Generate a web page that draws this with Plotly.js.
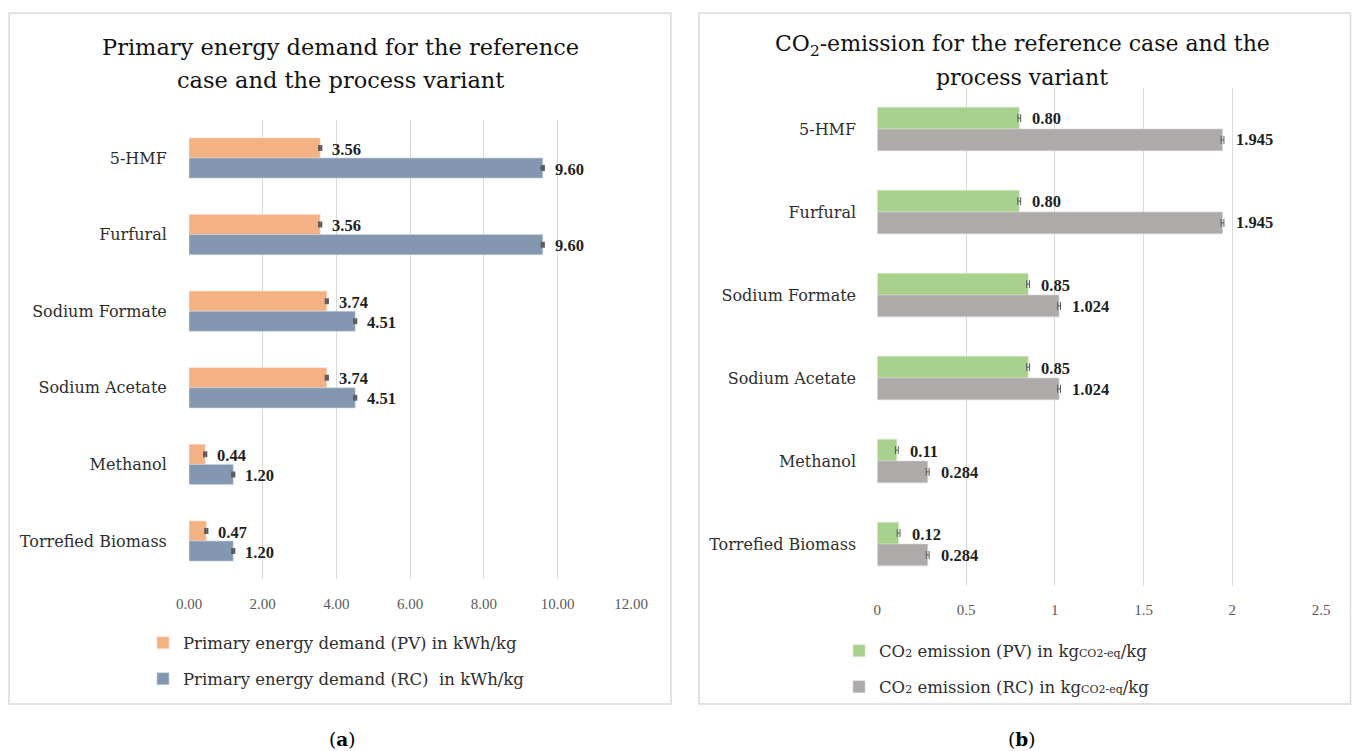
<!DOCTYPE html>
<html>
<head>
<meta charset="utf-8">
<script src="https://cdn.plot.ly/plotly-3.0.1.min.js"></script>
<style>
  html, body { margin: 0; padding: 0; background: #ffffff; }
  #chart { width: 1352px; height: 751px; }
</style>
</head>
<body>
<div id="chart"></div>
<script>
// Products compared in both panels (top to bottom)
const categories = ['5-HMF', 'Furfural', 'Sodium Formate', 'Sodium Acetate', 'Methanol', 'Torrefied Biomass'];

// Panel (a): primary energy demand, kWh/kg
const energyPV = [3.56, 3.56, 3.74, 3.74, 0.44, 0.47];
const energyRC = [9.60, 9.60, 4.51, 4.51, 1.20, 1.20];
const energyErrPV = [0.03, 0.03, 0.03, 0.03, 0.03, 0.03];
const energyErrRC = [0.03, 0.03, 0.03, 0.03, 0.03, 0.03];

// Panel (b): CO2 emission, kg CO2-eq/kg
const co2PV = [0.80, 0.80, 0.85, 0.85, 0.11, 0.12];
const co2RC = [1.945, 1.945, 1.024, 1.024, 0.284, 0.284];
const co2ErrPV = [0.008, 0.008, 0.008, 0.008, 0.008, 0.008];
const co2ErrRC = [0.008, 0.008, 0.008, 0.008, 0.008, 0.008];

// Axis ticks
const energyTicks = [0, 2, 4, 6, 8, 10, 12];
const co2Ticks = [0, 0.5, 1, 1.5, 2, 2.5];

// Legend labels
const legendEnergyPV = 'Primary energy demand (PV) in kWh/kg';
const legendEnergyRC = 'Primary energy demand (RC)\u00a0 in kWh/kg';
const legendCo2PV = 'CO<span style="font-size:11px">2</span> emission (PV) in kg<span style="font-size:11px">CO2-eq</span>/kg';
const legendCo2RC = 'CO<span style="font-size:11px">2</span> emission (RC) in kg<span style="font-size:11px">CO2-eq</span>/kg';

// ---- helpers: pixel -> paper fraction ----
const W = 1352, H = 751;
const px = v => v / W;
const py = v => 1 - v / H;

const SERIF = 'DejaVu Serif, serif';
const NUM = 'Liberation Serif, serif';
const errStyle = (arr, th, w) => ({ type: 'data', array: arr, color: '#595959', thickness: th, width: w });

const traces = [
  { type: 'bar', orientation: 'h', y: categories, x: energyPV, name: legendEnergyPV,
    marker: { color: '#F4B183', line: { color: '#fbe3d2', width: 0.6 } },
    error_x: errStyle(energyErrPV, 2, 3), xaxis: 'x', yaxis: 'y', legend: 'legend', hoverinfo: 'skip' },
  { type: 'bar', orientation: 'h', y: categories, x: energyRC, name: legendEnergyRC,
    marker: { color: '#8497B0', line: { color: '#c9d2de', width: 0.6 } },
    error_x: errStyle(energyErrRC, 2, 3), xaxis: 'x', yaxis: 'y', legend: 'legend2', hoverinfo: 'skip' },
  { type: 'bar', orientation: 'h', y: categories, x: co2PV, name: legendCo2PV,
    marker: { color: '#A9D18E', line: { color: '#d8ebcb', width: 0.6 } },
    error_x: errStyle(co2ErrPV, 1, 4), xaxis: 'x2', yaxis: 'y2', legend: 'legend3', hoverinfo: 'skip' },
  { type: 'bar', orientation: 'h', y: categories, x: co2RC, name: legendCo2RC,
    marker: { color: '#AEAAAA', line: { color: '#d6d4d4', width: 0.6 } },
    error_x: errStyle(co2ErrRC, 1, 4), xaxis: 'x2', yaxis: 'y2', legend: 'legend4', hoverinfo: 'skip' }
];

// value labels beside each bar
const annotations = [];
const labelFont = { family: NUM, size: 16.5, color: '#1f1f1f', weight: 'bold' };
categories.forEach((c, i) => {
  annotations.push({ xref: 'x', yref: 'y', x: energyPV[i], y: c, text: energyPV[i].toFixed(2),
    showarrow: false, xanchor: 'left', xshift: 10, yshift: 9, font: labelFont });
  annotations.push({ xref: 'x', yref: 'y', x: energyRC[i], y: c, text: energyRC[i].toFixed(2),
    showarrow: false, xanchor: 'left', xshift: 10, yshift: -11, font: labelFont });
  annotations.push({ xref: 'x2', yref: 'y2', x: co2PV[i], y: c, text: co2PV[i].toFixed(2),
    showarrow: false, xanchor: 'left', xshift: 11, yshift: 10, font: labelFont });
  annotations.push({ xref: 'x2', yref: 'y2', x: co2RC[i], y: c, text: co2RC[i].toFixed(3),
    showarrow: false, xanchor: 'left', xshift: 11, yshift: -11, font: labelFont });
});

// panel titles and captions
const titleFontA = { family: SERIF, size: 22.5, color: '#111111' };
const titleFontB = { family: SERIF, size: 22, color: '#111111' };
const titleLines = [
  ['Primary energy demand for the reference', 340, 47, titleFontA],
  ['case and the process variant', 340, 80, titleFontA],
  ['CO<sub>2</sub>-emission for the reference case and the', 1022, 45, titleFontB],
  ['process variant', 1022, 77, titleFontB]
];
titleLines.forEach(([t, x, y, f]) => annotations.push({
  xref: 'paper', yref: 'paper', x: px(x), y: py(y), text: t, showarrow: false,
  xanchor: 'center', yanchor: 'middle', font: f }));
[['(<b>a</b>)', 342], ['(<b>b</b>)', 1021]].forEach(([t, x]) => annotations.push({
  xref: 'paper', yref: 'paper', x: px(x), y: py(739), text: t, showarrow: false,
  xanchor: 'center', yanchor: 'middle', font: { family: SERIF, size: 18.5, color: '#000000' } }));

const xCommon = {
  showgrid: true, gridcolor: '#d9d9d9', gridwidth: 1, zeroline: false, showline: false,
  ticks: 'outside', tickcolor: 'rgba(0,0,0,0)', fixedrange: true,
  tickfont: { family: NUM, size: 15, color: '#595959' }
};
const yCommon = {
  type: 'category', categoryorder: 'array', categoryarray: categories, autorange: 'reversed',
  showgrid: false, zeroline: false, showline: false, ticks: 'outside', tickcolor: 'rgba(0,0,0,0)',
  fixedrange: true, tickfont: { family: SERIF, size: 16, color: '#2e2e2e' }
};

const legendBase = { orientation: 'v', bgcolor: 'rgba(0,0,0,0)', borderwidth: 0,
  xanchor: 'left', yanchor: 'middle', font: { family: SERIF, size: 16.5, color: '#2e2e2e' } };

const layout = {
  width: W, height: H,
  margin: { l: 0, r: 0, t: 0, b: 0 },
  paper_bgcolor: '#ffffff', plot_bgcolor: 'rgba(0,0,0,0)',
  barmode: 'group', bargap: 0.475, bargroupgap: 0,
  showlegend: true,
  xaxis: Object.assign({}, xCommon, { domain: [px(189), px(631.2)], range: [0, 12],
    tickvals: energyTicks, tickformat: '.2f', ticklen: 11, anchor: 'y' }),
  yaxis: Object.assign({}, yCommon, { domain: [py(579.3), py(119.7)], ticklen: 18, anchor: 'x' }),
  xaxis2: Object.assign({}, xCommon, { domain: [px(877.3), px(1321)], range: [0, 2.5],
    tickvals: co2Ticks, ticklen: 10, anchor: 'y2' }),
  yaxis2: Object.assign({}, yCommon, { domain: [py(585.5), py(87.5)], ticklen: 17, anchor: 'x2' }),
  legend: Object.assign({}, legendBase, { x: px(143), y: py(643) }),
  legend2: Object.assign({}, legendBase, { x: px(143), y: py(679) }),
  legend3: Object.assign({}, legendBase, { x: px(839), y: py(651) }),
  legend4: Object.assign({}, legendBase, { x: px(839), y: py(687) }),
  shapes: [
    { type: 'rect', xref: 'paper', yref: 'paper', x0: px(9), x1: px(671), y0: py(704), y1: py(13),
      line: { color: '#d9d9d9', width: 1.5 }, fillcolor: 'rgba(0,0,0,0)', layer: 'below' },
    { type: 'rect', xref: 'paper', yref: 'paper', x0: px(699), x1: px(1350.5), y0: py(704), y1: py(13),
      line: { color: '#d9d9d9', width: 1.5 }, fillcolor: 'rgba(0,0,0,0)', layer: 'below' }
  ],
  annotations: annotations
};

Plotly.newPlot('chart', traces, layout, { displayModeBar: false, staticPlot: true });
</script>
</body>
</html>
